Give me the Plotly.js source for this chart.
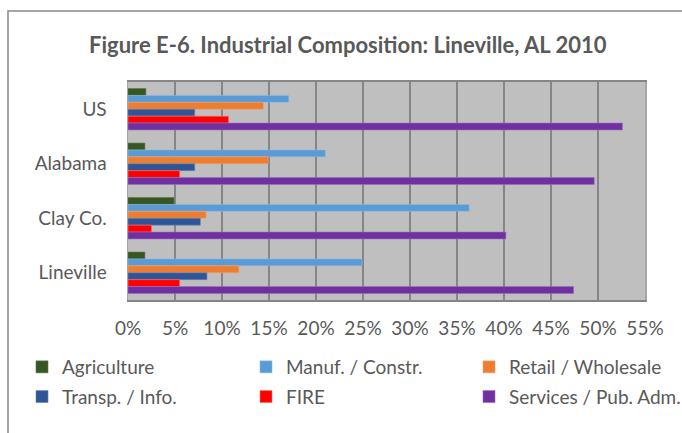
<!DOCTYPE html>
<html>
<head>
<meta charset="utf-8">
<script src="https://cdn.plot.ly/plotly-3.0.1.min.js"></script>
<style>html,body{margin:0;padding:0;background:#fff;}#chart{width:682px;height:433px;}</style>
</head>
<body>
<div id="chart"></div>
<script>
const categories = ['US', 'Alabama', 'Clay Co.', 'Lineville'];
const seriesNames = ['Agriculture', 'Manuf. / Constr.', 'Retail / Wholesale', 'Transp. / Info.', 'FIRE', 'Services / Pub. Adm.'];
const agriculture = [1.9, 1.8, 4.9, 1.8];
const manufConstr = [17.1, 21.0, 36.3, 24.9];
const retailWholesale = [14.4, 14.9, 8.3, 11.8];
const transpInfo = [7.1, 7.1, 7.7, 8.4];
const fire = [10.7, 5.5, 2.5, 5.5];
const servicesPubAdm = [52.6, 49.6, 40.2, 47.4];
const xTickVals = [0, 5, 10, 15, 20, 25, 30, 35, 40, 45, 50, 55];

const seriesValues = [agriculture, manufConstr, retailWholesale, transpInfo, fire, servicesPubAdm];
const colors = ['#375623', '#5b9bd5', '#ed7d31', '#2f5597', '#ff0000', '#7030a0'];
const lineColors = ['#5a7a48', '#8dbbe6', '#f4a474', '#6a85b8', '#ff7070', '#9a6bc0'];
const legendIds = ['legend', 'legend2', 'legend3', 'legend', 'legend2', 'legend3'];

const traces = seriesValues.map((vals, i) => ({
  type: 'bar',
  orientation: 'h',
  name: seriesNames[i],
  x: vals,
  y: categories,
  marker: {color: colors[i], line: {color: lineColors[i], width: 0.6}},
  legend: legendIds[i],
  legendgroup: 'g' + i,
  hoverinfo: 'x+name'
}));

const L = 128, R = 37, T = 82, B = 133;
const pw = 682 - L - R, ph = 433 - T - B;
const px = v => (v - L) / pw;
const py = v => (433 - B - v) / ph;

const fontFam = 'Lato, "Open Sans", sans-serif';
const legendCommon = {
  orientation: 'v',
  font: {family: fontFam, size: 19, color: '#595959'},
  bgcolor: 'rgba(0,0,0,0)',
  xanchor: 'left',
  yanchor: 'top',
  itemwidth: 30,
  tracegroupgap: 2,
  traceorder: 'grouped'
};
const legendTop = py(348);

const layout = {
  width: 682,
  height: 433,
  margin: {l: L, r: R, t: T, b: B, pad: 0, autoexpand: false},
  paper_bgcolor: '#ffffff',
  plot_bgcolor: '#bfbfbf',
  barmode: 'group',
  bargap: 0.24,
  bargroupgap: 0,
  title: {
    text: '<b>Figure E-6. Industrial Composition: Lineville, AL 2010</b>',
    font: {family: fontFam, size: 22, color: '#595959'},
    x: 0.51, xanchor: 'center',
    y: 1 - 45 / 433, yanchor: 'middle', yref: 'container'
  },
  xaxis: {
    range: [0, 55],
    tickvals: xTickVals,
    ticktext: xTickVals.map(v => v + '%'),
    showgrid: true,
    gridcolor: '#858585',
    gridwidth: 2,
    zeroline: false,
    showline: true,
    linecolor: '#858585',
    linewidth: 2,
    mirror: true,
    ticks: '',
    automargin: false,
    ticklabelstandoff: 10,
    tickfont: {family: fontFam, size: 19, color: '#595959'},
    fixedrange: true
  },
  yaxis: {
    type: 'category',
    categoryorder: 'array',
    categoryarray: categories,
    autorange: 'reversed',
    showgrid: false,
    zeroline: false,
    showline: true,
    linecolor: '#a6a6a6',
    linewidth: 1.5,
    mirror: true,
    ticks: '',
    automargin: false,
    ticklabelstandoff: 16,
    tickfont: {family: fontFam, size: 19, color: '#595959'},
    fixedrange: true
  },
  showlegend: true,
  legend: Object.assign({}, legendCommon, {x: px(22), y: legendTop}),
  legend2: Object.assign({}, legendCommon, {x: px(246), y: legendTop}),
  legend3: Object.assign({}, legendCommon, {x: px(469), y: legendTop}),
  shapes: [{
    type: 'rect', xref: 'paper', yref: 'paper',
    x0: px(8), x1: px(700), y0: py(450), y1: py(11),
    line: {color: '#888888', width: 1.5}, fillcolor: 'rgba(0,0,0,0)', layer: 'below'
  }]
};

Plotly.newPlot('chart', traces, layout, {displayModeBar: false, staticPlot: true});
</script>
</body>
</html>
